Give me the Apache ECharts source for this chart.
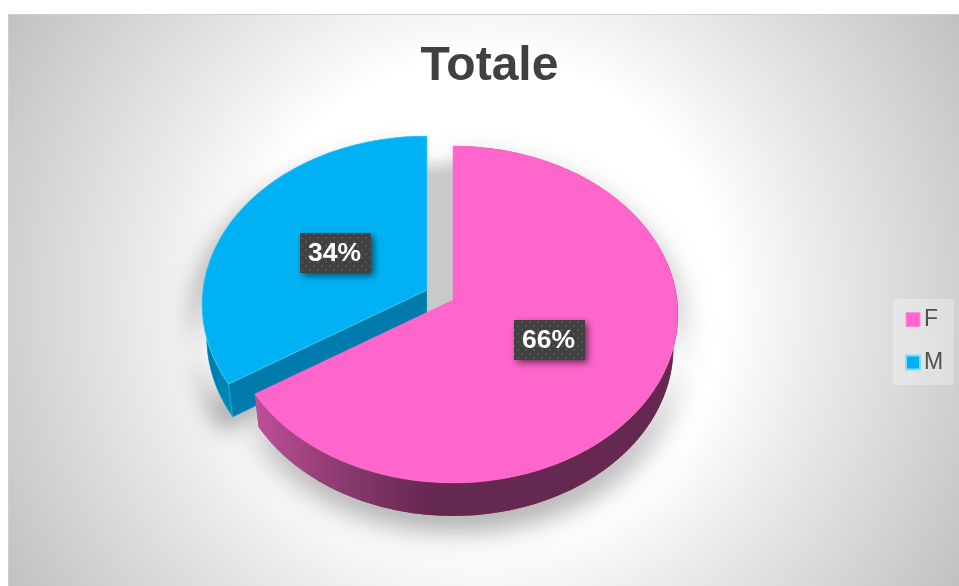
<!DOCTYPE html>
<html>
<head>
<meta charset="utf-8">
<script src="https://cdn.jsdelivr.net/npm/echarts@6/dist/echarts.min.js"></script>
<style>html,body{margin:0;padding:0;background:#fff}#c{width:959px;height:586px}</style>
</head>
<body>
<div id="c"></div>
<script>
const categories = ['F', 'M'];
const values = [66, 34];
const titleText = 'Totale';

const total = values.reduce((a, b) => a + b, 0);
const topColors = { F: '#ff66cc', M: '#00b2f3' };
const W = 224, H = 167.2, K = 0.086, DEPTH = 33;
const apex = { F: [453, 300], M: [427, 290] };

// perspective projection of the tilted disc
function project(name, theta, rho) {
  const u = rho * Math.sin(theta), v = rho * Math.cos(theta), d = 1 + K * v;
  return [apex[name][0] + W * u / d, apex[name][1] - H * v / d];
}
function angles(name) {
  let start = 0;
  for (let i = 0; i < categories.length; i++) {
    const end = start + values[i] / total * Math.PI * 2;
    if (categories[i] === name) return [start, end];
    start = end;
  }
}
function arc(name, a, b, rho) {
  const pts = [], n = Math.max(2, Math.ceil(Math.abs(b - a) / 0.015));
  for (let i = 0; i <= n; i++) pts.push(project(name, a + (b - a) * i / n, rho));
  return pts;
}
function lower(name, p) {
  return [apex[name][0] + 0.98 * (p[0] - apex[name][0]), p[1] + DEPTH];
}

const tile = document.createElement('canvas');
tile.width = tile.height = 8;
(function () {
  const g = tile.getContext('2d');
  g.fillStyle = '#404040'; g.fillRect(0, 0, 8, 8);
  g.fillStyle = 'rgba(255,255,255,0.11)';
  [[2, 2], [6, 6]].forEach(p => { g.beginPath(); g.arc(p[0], p[1], 1.2, 0, 7); g.fill(); });
})();

function linear(x, x2, stops) {
  return { type: 'linear', x: x, y: 0, x2: x2, y2: 0, global: true,
    colorStops: stops.map(s => ({ offset: s[0], color: s[1] })) };
}

function renderSlice(name, z) {
  return function (params, api) {
    const [a, b] = angles(name);
    const value = api.value(0);
    const top = arc(name, a, b, 1);
    const face = [apex[name]].concat(top);
    const children = [];
    // soft cast shadow: the solid of the slice, hidden beneath itself
    const solid = face.concat(face.map(p => lower(name, p)).reverse());
    children.push({ type: 'polygon', z2: 0, silent: true, shape: { points: solid },
      style: name === 'F'
        ? { fill: '#8a3a6e', shadowColor: 'rgba(0,0,0,0.34)', shadowBlur: 28, shadowOffsetX: 3, shadowOffsetY: 15 }
        : { fill: '#007bab', shadowColor: 'rgba(0,0,0,0.30)', shadowBlur: 22, shadowOffsetX: -11, shadowOffsetY: 15 } });
    if (name === 'F') {
      // shadow showing through the gap between the slices
      const gapTop = apex.F[1] - 145, gapH = 160;
      children.push({ type: 'rect', z2: 0, silent: true,
        shape: { x: apex.M[0] - 4, y: gapTop, width: apex.F[0] - apex.M[0] + 8, height: gapH },
        style: { fill: { type: 'linear', x: 0, y: gapTop, x2: 0, y2: gapTop + 20, global: true, colorStops: [
          { offset: 0, color: 'rgba(201,201,201,0)' }, { offset: 1, color: '#c9c9c9' }] } } });
      const outer = arc(name, 1.35, b, 1);
      const rim = outer.concat(outer.map(p => lower(name, p)).reverse());
      children.push({ type: 'polygon', z2: z, shape: { points: rim },
        style: { fill: linear(258, 430, [[0, '#bb4f98'], [0.5, '#8a3a6e'], [1, '#652850']]) } });
    } else {
      const endP = top[0];
      const cut = [apex[name], endP, lower(name, endP), lower(name, apex[name])];
      const outer = arc(name, a, a + 0.7, 1);
      const rim = outer.concat(outer.map(p => lower(name, p)).reverse());
      children.push({ type: 'polygon', z2: z, shape: { points: rim },
        style: { fill: linear(205, 240, [[0, '#0078a8'], [1, '#0090c4']]), stroke: '#5fc8ea', lineWidth: 0.4 } });
      children.push({ type: 'polygon', z2: z, shape: { points: cut },
        style: { fill: '#007bab', stroke: '#4fbfe2', lineWidth: 0.4 } });
    }
    children.push({ type: 'polygon', z2: z + 1, shape: { points: face },
      style: { fill: topColors[name], stroke: name === 'M' ? '#5fd2f7' : topColors[name], lineWidth: name === 'M' ? 0.6 : 0.4 } });
    // data label
    const mid = project(name, (a + b) / 2, 0.478);
    const bw = 71, bh = 40;
    const bx = Math.round(mid[0] + 0.4 - bw / 2), by = Math.round(mid[1] - bh / 2) + 1;
    children.push({ type: 'rect', z2: 20, silent: true,
      shape: { x: bx, y: by, width: bw, height: bh },
      style: { fill: { image: tile, repeat: 'repeat' }, shadowColor: 'rgba(0,0,0,0.55)', shadowBlur: 7, shadowOffsetX: 3, shadowOffsetY: 3 } });
    children.push({ type: 'text', z2: 21, silent: true, x: bx + bw / 2 - 1, y: by + bh / 2 + 1,
      style: { text: value + '%', fill: '#ffffff', font: 'bold 26.5px "Liberation Sans", Arial, sans-serif', align: 'center', verticalAlign: 'middle' } });
    return { type: 'group', children: children };
  };
}

const chart = echarts.init(document.getElementById('c'), null, { renderer: 'canvas' });
chart.setOption({
  animation: false,
  backgroundColor: '#ffffff',
  graphic: [{
    type: 'rect', z: -10, silent: true,
    shape: { x: 8.5, y: 14.5, width: 960, height: 580 },
    style: {
      stroke: '#cfcfcf', lineWidth: 1,
      fill: { type: 'radial', x: 484, y: 300, r: 560, global: true, colorStops: [
        { offset: 0, color: '#ffffff' }, { offset: 0.43, color: '#ffffff' },
        { offset: 0.6, color: '#ebebeb' }, { offset: 1, color: '#c0c0c0' }] }
    }
  }],
  title: {
    text: titleText, left: 484.5, top: 38, textAlign: 'center',
    textStyle: { color: '#404040', fontSize: 48, fontWeight: 'bold', fontFamily: '"Liberation Sans", Arial, sans-serif' }
  },
  legend: {
    data: [
      { name: 'F', itemStyle: { borderColor: '#ff8fdb', borderWidth: 1 } },
      { name: 'M', itemStyle: { borderColor: '#7fdcff', borderWidth: 2 } }
    ],
    orient: 'vertical', left: 893, top: 299,
    padding: [7, 11, 9, 12], itemWidth: 14, itemHeight: 14, itemGap: 16,
    backgroundColor: 'rgba(255,255,255,0.3)', icon: 'rect', selectedMode: false,
    textStyle: { color: '#505050', fontSize: 23, lineHeight: 26, height: 24, fontFamily: '"Liberation Sans", Arial, sans-serif', padding: [3, 0, 0, -1] }
  },
  series: [
    { type: 'custom', name: 'M', coordinateSystem: 'none', silent: true, data: [[values[1]]],
      itemStyle: { color: topColors.M }, renderItem: renderSlice('M', 2) },
    { type: 'custom', name: 'F', coordinateSystem: 'none', silent: true, data: [[values[0]]],
      itemStyle: { color: topColors.F }, renderItem: renderSlice('F', 5) }
  ]
});
</script>
</body>
</html>
